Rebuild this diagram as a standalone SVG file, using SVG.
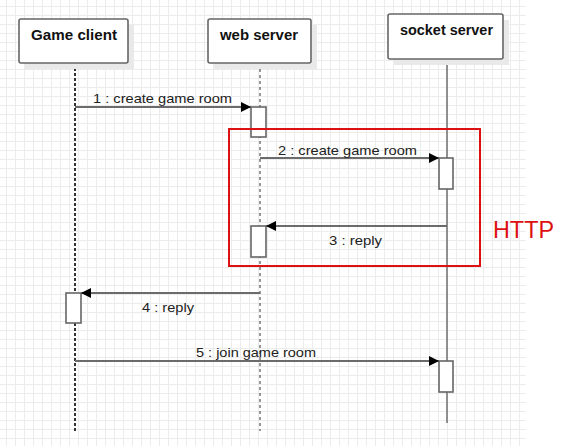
<svg xmlns="http://www.w3.org/2000/svg" width="575" height="446" viewBox="0 0 575 446">
<style>
.box{fill:#fff;stroke:#666;stroke-width:1.6}
.shadow{fill:#e9e9e9}
.title{font-family:"Liberation Sans",Arial,sans-serif;font-size:14.5px;font-weight:bold;fill:#111;text-anchor:start}
.life-d{stroke:#333;fill:none}
.msg{stroke:#6b6b6b;stroke-width:1.8;fill:none}
.act{fill:#fff;stroke:#666;stroke-width:1.6}
.lbl{font-family:"Liberation Sans",Arial,sans-serif;font-size:13px;fill:#222}
</style>
<defs>
<pattern id="grid" patternUnits="userSpaceOnUse" x="0" y="0" width="9" height="9">
<path d="M6.5 0V9M0 6.5H9" stroke="#ececec" stroke-width="1" fill="none"/>
</pattern>
<marker id="arr" markerWidth="11" markerHeight="11" refX="10" refY="5" orient="auto" markerUnits="userSpaceOnUse">
<path d="M0 0L10 5L0 10Z" fill="#000"/>
</marker>
</defs>
<rect x="0" y="0" width="575" height="446" fill="#fff"/>
<rect x="0" y="0" width="526" height="446" fill="url(#grid)"/>

<g id="lifelines">
<line class="life-d" x1="75" y1="63" x2="75" y2="431" stroke-width="2" stroke-dasharray="3,2"/>
<line class="life-d" x1="260" y1="63" x2="260" y2="431" stroke-width="1" stroke-dasharray="3,3"/>
<line x1="447" y1="59" x2="447" y2="423" stroke="#777" stroke-width="1.6"/>
</g>

<g id="game-client">
<rect class="shadow" x="25" y="25" width="109" height="44"/>
<rect class="box" x="19" y="19" width="109" height="44" rx="2"/>
<text class="title" x="31" y="40" textLength="86" lengthAdjust="spacingAndGlyphs">Game client</text>
</g>
<g id="web-server">
<rect class="shadow" x="214" y="25" width="103" height="44"/>
<rect class="box" x="208" y="19" width="103" height="44" rx="2"/>
<text class="title" x="220" y="40" textLength="78" lengthAdjust="spacingAndGlyphs">web server</text>
</g>
<g id="socket-server">
<rect class="shadow" x="394" y="20" width="115" height="45"/>
<rect class="box" x="388" y="14" width="115" height="45" rx="2"/>
<text class="title" x="400" y="35" textLength="93" lengthAdjust="spacingAndGlyphs">socket server</text>
</g>

<g id="activations">
<rect class="act" x="251" y="107" width="15" height="30"/>
<rect class="act" x="439" y="158" width="14" height="31"/>
<rect class="act" x="251" y="226" width="15" height="31"/>
<rect class="act" x="66" y="293" width="15" height="30"/>
<rect class="act" x="439" y="361" width="14" height="31"/>
</g>

<g id="connectors">
<line class="msg" x1="75" y1="107" x2="251" y2="107" marker-end="url(#arr)"/>
<line class="msg" x1="260" y1="158" x2="439" y2="158" marker-end="url(#arr)"/>
<line class="msg" x1="447" y1="226" x2="266" y2="226" marker-end="url(#arr)"/>
<line class="msg" x1="260" y1="293" x2="81" y2="293" marker-end="url(#arr)"/>
<line class="msg" x1="75" y1="361" x2="439" y2="361" marker-end="url(#arr)"/>
</g>

<g id="labels">
<text class="lbl" x="93" y="103" textLength="139" lengthAdjust="spacingAndGlyphs">1 : create game room</text>
<text class="lbl" x="278" y="155" textLength="139" lengthAdjust="spacingAndGlyphs">2 : create game room</text>
<text class="lbl" x="329" y="245" textLength="53" lengthAdjust="spacingAndGlyphs">3 : reply</text>
<text class="lbl" x="142" y="312" textLength="52" lengthAdjust="spacingAndGlyphs">4 : reply</text>
<text class="lbl" x="196" y="357" textLength="120" lengthAdjust="spacingAndGlyphs">5 : join game room</text>
</g>

<g id="http-frame">
<rect x="229" y="129" width="251" height="137" fill="none" stroke="#dd1111" stroke-width="2"/>
<text x="493" y="238" font-family="'Liberation Sans',Arial,sans-serif" font-size="24" fill="#dd1111" textLength="61" lengthAdjust="spacingAndGlyphs">HTTP</text>
</g>
</svg>
